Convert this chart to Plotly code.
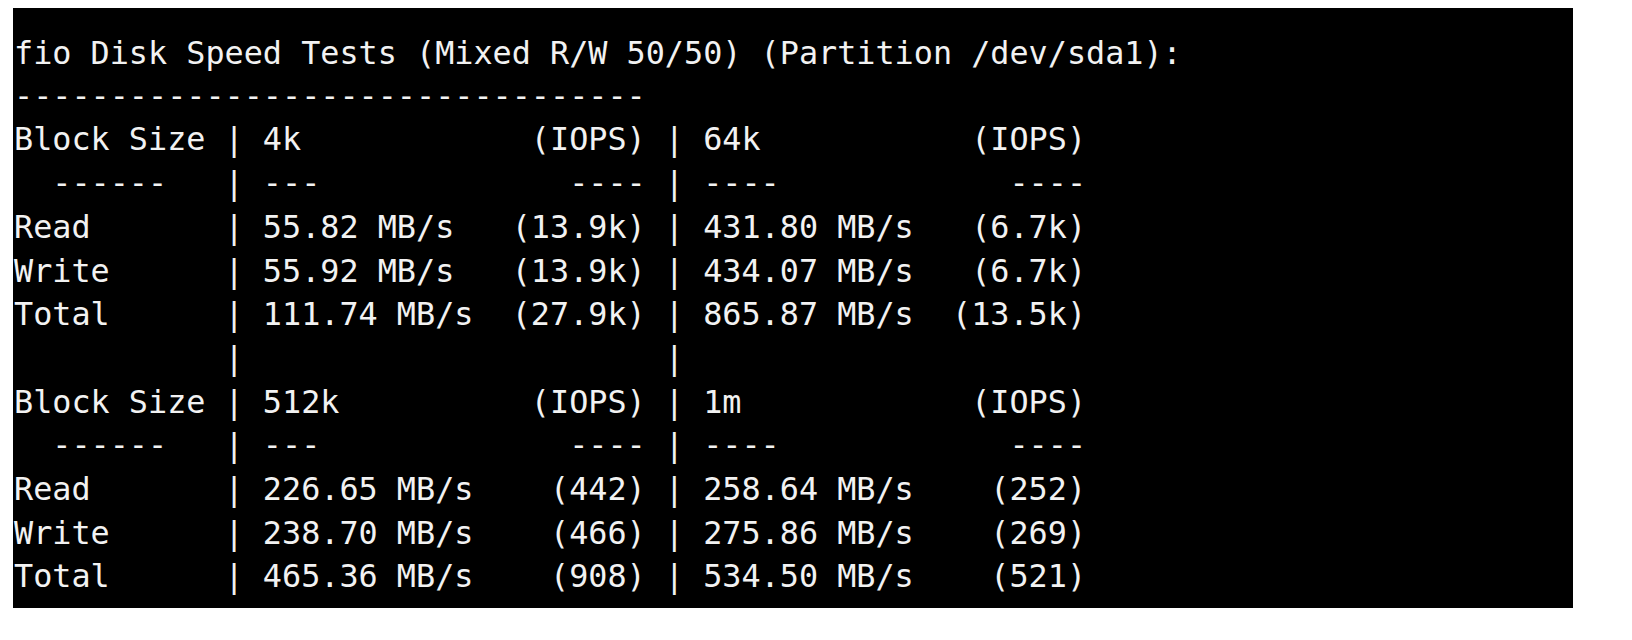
import plotly.graph_objects as go

title = "fio Disk Speed Tests (Mixed R/W 50/50) (Partition /dev/sda1):"
block_sizes = [["4k", "64k"], ["512k", "1m"]]
row_labels = ["Read", "Write", "Total"]
speeds = [
    [["55.82 MB/s", "431.80 MB/s"], ["55.92 MB/s", "434.07 MB/s"], ["111.74 MB/s", "865.87 MB/s"]],
    [["226.65 MB/s", "258.64 MB/s"], ["238.70 MB/s", "275.86 MB/s"], ["465.36 MB/s", "534.50 MB/s"]],
]
iops = [
    [["(13.9k)", "(6.7k)"], ["(13.9k)", "(6.7k)"], ["(27.9k)", "(13.5k)"]],
    [["(442)", "(252)"], ["(466)", "(269)"], ["(908)", "(521)"]],
]

fmt = "%-10s | %-11s %8s | %-11s %8s"
lines = [title, "-" * 33]
for g in range(2):
    if g == 1:
        lines.append("%-10s | %-11s %8s |" % ("", "", ""))
    lines.append(fmt % ("Block Size", block_sizes[g][0], "(IOPS)", block_sizes[g][1], "(IOPS)"))
    lines.append(fmt % ("  ------", "---", "----", "----", "----"))
    for r, lab in enumerate(row_labels):
        lines.append(fmt % (lab, speeds[g][r][0], iops[g][r][0], speeds[g][r][1], iops[g][r][1]))

fig = go.Figure()
fig.add_shape(type="rect", xref="x", yref="y", x0=5, x1=1565, y0=0, y1=600,
              fillcolor="black", line_width=0, layer="below")
y0, dy = 44, 43.7
for i, ln in enumerate(lines):
    fig.add_annotation(x=4, y=y0 + i * dy, xref="x", yref="y", text=ln.replace(" ", "\u00a0"),
                       showarrow=False, xanchor="left", yanchor="middle",
                       font=dict(family="DejaVu Sans Mono", size=31.8, color="#f2f2f2"))
fig.update_layout(width=1632, height=640, margin=dict(l=0, r=0, t=0, b=0),
                  paper_bgcolor="white", plot_bgcolor="white", showlegend=False,
                  xaxis=dict(range=[0, 1632], visible=False),
                  yaxis=dict(range=[640, 0], visible=False))
fig.write_html("out.html")
